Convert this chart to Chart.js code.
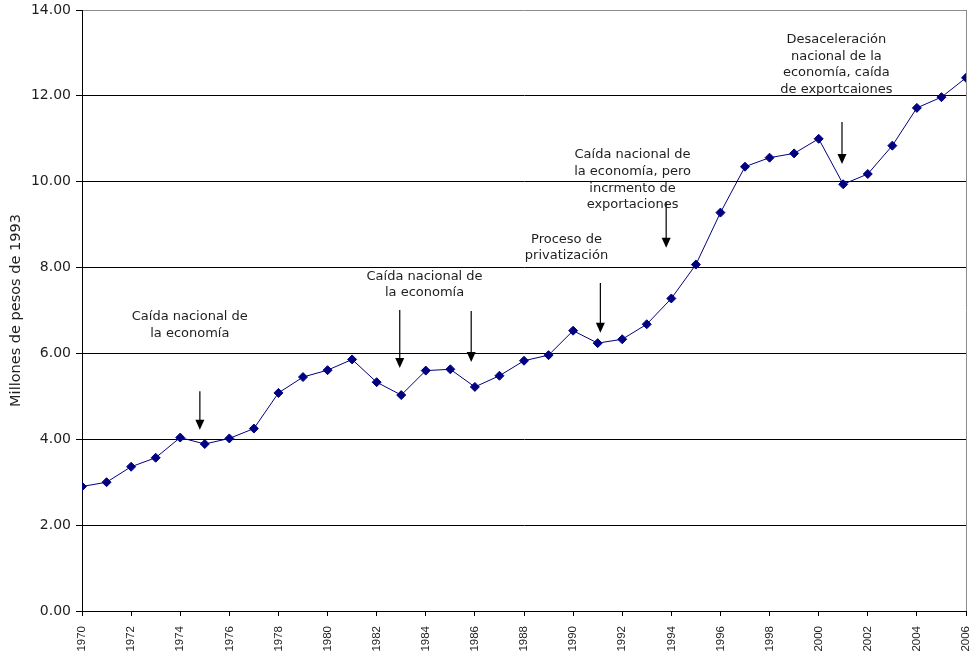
<!DOCTYPE html>
<html>
<head>
<meta charset="utf-8">
<title>Millones de pesos de 1993, 1970-2006</title>
<script src="https://cdn.jsdelivr.net/npm/chart.js@4/dist/chart.umd.min.js"></script>
<style>
  html, body { margin: 0; padding: 0; background: #ffffff; }
  #wrap { width: 977px; height: 659px; position: relative; }
</style>
</head>
<body>
<div id="wrap"><canvas id="grafica"></canvas></div>
<script>
// Serie anual, millones de pesos de 1993
const years = [1970, 1971, 1972, 1973, 1974, 1975, 1976, 1977, 1978, 1979,
               1980, 1981, 1982, 1983, 1984, 1985, 1986, 1987, 1988, 1989,
               1990, 1991, 1992, 1993, 1994, 1995, 1996, 1997, 1998, 1999,
               2000, 2001, 2002, 2003, 2004, 2005, 2006];
const valores = [2.90, 3.00, 3.36, 3.57, 4.04, 3.89, 4.02, 4.25, 5.08, 5.45,
                 5.61, 5.86, 5.33, 5.03, 5.60, 5.63, 5.22, 5.48, 5.83, 5.96,
                 6.53, 6.24, 6.33, 6.68, 7.28, 8.07, 9.28, 10.35, 10.56, 10.66,
                 11.00, 9.94, 10.18, 10.84, 11.72, 11.97, 12.42];

// Ejes
const yMin = 0, yMax = 14, yPaso = 2;
const xMin = 1970, xMax = 2006, xPaso = 2;
const tituloY = "Millones de pesos de 1993";

// Notas de texto (año y valor del centro de la primera línea)
const notas = [
  { lineas: ["Caída nacional de", "la economía"], anio: 1974.39, valor: 6.85 },
  { lineas: ["Caída nacional de", "la economía"], anio: 1983.95, valor: 7.80 },
  { lineas: ["Proceso de", "privatización"], anio: 1989.73, valor: 8.66 },
  { lineas: ["Caída nacional de", "la economía, pero", "incrmento de", "exportaciones"], anio: 1992.42, valor: 10.62 },
  { lineas: ["Desaceleración", "nacional de la", "economía, caída", "de exportcaiones"], anio: 2000.72, valor: 13.31 }
];

// Flechas: año, valor inicial y valor de la punta
const flechas = [
  { anio: 1974.80, desde: 5.12, hasta: 4.22 },
  { anio: 1982.94, desde: 7.01, hasta: 5.66 },
  { anio: 1985.85, desde: 6.99, hasta: 5.80 },
  { anio: 1991.11, desde: 7.64, hasta: 6.48 },
  { anio: 1993.79, desde: 9.53, hasta: 8.46 },
  { anio: 2000.95, desde: 11.39, hasta: 10.41 }
];

const puntos = years.map((a, i) => ({ x: a, y: valores[i] }));

// Dibuja el marco derecho, las notas y las flechas
const notasPlugin = {
  id: 'notas',
  afterDatasetsDraw(chart) {
    const { ctx, chartArea, scales } = chart;
    const sx = scales.x, sy = scales.y;
    ctx.save();
    // borde derecho del área de trazado
    ctx.strokeStyle = '#8c8c8c';
    ctx.lineWidth = 1;
    const xr = Math.round(chartArea.right) + 0.5;
    ctx.beginPath();
    ctx.moveTo(xr, chartArea.top);
    ctx.lineTo(xr, chartArea.bottom);
    ctx.stroke();

    // flechas
    ctx.strokeStyle = '#000000';
    ctx.fillStyle = '#000000';
    ctx.lineWidth = 1.2;
    flechas.forEach(f => {
      const x = sx.getPixelForValue(f.anio);
      const y0 = sy.getPixelForValue(f.desde);
      const y1 = sy.getPixelForValue(f.hasta);
      ctx.beginPath();
      ctx.moveTo(x, y0);
      ctx.lineTo(x, y1 - 8);
      ctx.stroke();
      ctx.beginPath();
      ctx.moveTo(x - 4.5, y1 - 10);
      ctx.lineTo(x + 4.5, y1 - 10);
      ctx.lineTo(x, y1);
      ctx.closePath();
      ctx.fill();
    });

    // textos
    ctx.fillStyle = '#1e1e1e';
    ctx.font = '13px "DejaVu Sans", sans-serif';
    ctx.textAlign = 'center';
    ctx.textBaseline = 'middle';
    notas.forEach(n => {
      const x = sx.getPixelForValue(n.anio);
      const y = sy.getPixelForValue(n.valor);
      n.lineas.forEach((l, k) => ctx.fillText(l, x, y + k * 16.6));
    });
    ctx.restore();
  }
};

new Chart(document.getElementById('grafica'), {
  type: 'line',
  data: {
    datasets: [{
      data: puntos,
      borderColor: '#000080',
      backgroundColor: '#000080',
      borderWidth: 1,
      pointStyle: 'rectRot',
      pointRadius: 4.5,
      pointHoverRadius: 4.5,
      pointBorderWidth: 1,
      tension: 0,
      fill: false
    }]
  },
  options: {
    responsive: true,
    maintainAspectRatio: false,
    animation: false,
    events: [],
    layout: { padding: { top: 10, right: 11, left: 0, bottom: 0 } },
    plugins: {
      legend: { display: false },
      tooltip: { enabled: false },
      title: { display: false }
    },
    scales: {
      x: {
        type: 'linear',
        min: xMin,
        max: xMax,
        afterFit(scale) {
          scale.height = 48;
          scale.paddingLeft = 0;
          scale.paddingRight = 0;
        },
        ticks: {
          stepSize: xPaso,
          autoSkip: false,
          minRotation: 90,
          maxRotation: 90,
          padding: 10,
          color: '#1e1e1e',
          font: { family: '"Liberation Sans", Arial, sans-serif', size: 11.5 },
          callback: v => String(v)
        },
        grid: {
          drawOnChartArea: false,
          drawTicks: true,
          tickLength: 5,
          tickColor: '#000000'
        },
        border: { display: true, color: '#000000', width: 1 }
      },
      y: {
        min: yMin,
        max: yMax,
        afterFit(scale) {
          scale.width = 82;
          scale.paddingTop = 0;
          scale.paddingBottom = 0;
        },
        ticks: {
          stepSize: yPaso,
          padding: 5,
          color: '#1e1e1e',
          font: { family: '"DejaVu Sans", sans-serif', size: 14 },
          callback: v => v.toFixed(2)
        },
        grid: {
          color: ctx => (ctx.tick && ctx.tick.value === yMax) ? '#8c8c8c' : '#000000',
          lineWidth: 1,
          tickLength: 6,
          tickColor: '#000000'
        },
        border: { display: true, color: '#000000', width: 1 },
        title: {
          display: true,
          text: tituloY,
          color: '#1e1e1e',
          font: { family: '"DejaVu Sans", sans-serif', size: 14.5 },
          padding: { top: 8, bottom: 0 }
        }
      }
    }
  },
  plugins: [notasPlugin]
});
</script>
</body>
</html>
